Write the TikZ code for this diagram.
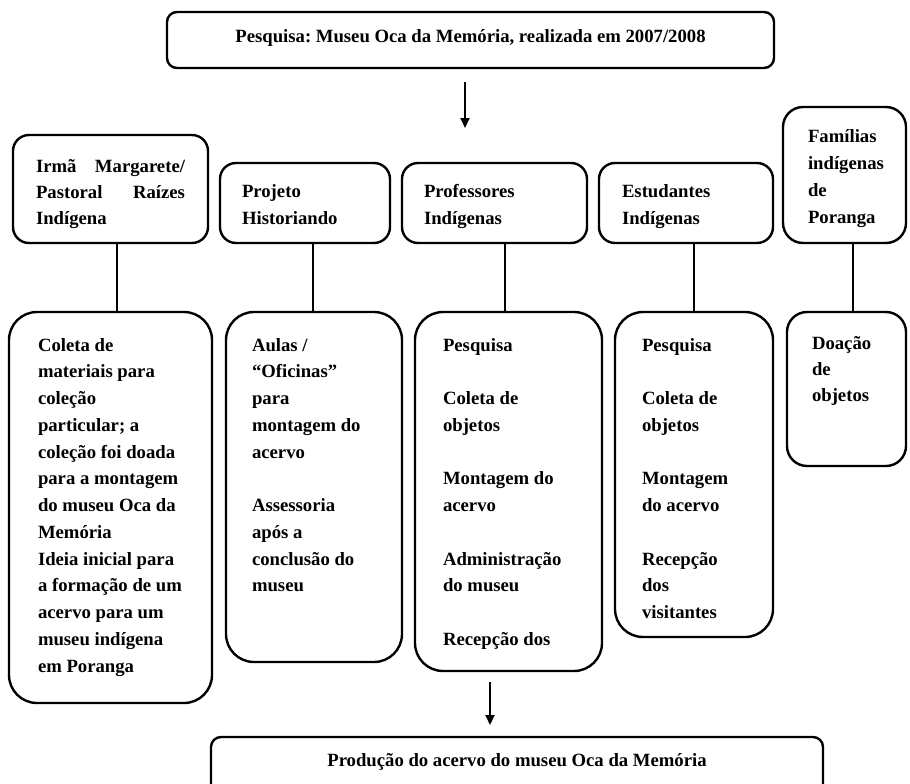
\documentclass[tikz,border=0pt]{standalone}
\usepackage{fontspec}
\setmainfont{Liberation Serif}
\usetikzlibrary{arrows.meta}
\frenchspacing
\newcommand\mylines[1]{\begin{tabular}[t]{@{}l@{}}#1\end{tabular}}
\begin{document}
\begin{tikzpicture}[x=1pt,y=-1pt,
  box/.style={draw, line width=2.4pt, rectangle, inner sep=0pt, outer sep=0pt, anchor=north west},
  txt/.style={inner sep=0pt, outer sep=0pt, anchor=base west, font=\fontsize{18.7}{26.75}\selectfont\bfseries},
  ctxt/.style={inner sep=0pt, outer sep=0pt, anchor=base, font=\fontsize{18.7}{26.75}\selectfont\bfseries},
  conn/.style={line width=2.2pt},
  arr/.style={line width=2pt, -{Triangle[width=9pt,length=10pt]}}]
\clip (0,0) rectangle (910,784);
% boxes
\node[box, rounded corners=10pt, minimum width=607pt, minimum height=56pt] (top) at (167,12) {};
\node[box, rounded corners=16pt, minimum width=195pt, minimum height=108pt] (h1) at (13,135) {};
\node[box, rounded corners=16pt, minimum width=170pt, minimum height=80pt] (h2) at (220,163) {};
\node[box, rounded corners=16pt, minimum width=185pt, minimum height=80pt] (h3) at (402,163) {};
\node[box, rounded corners=16pt, minimum width=174pt, minimum height=80pt] (h4) at (599,163) {};
\node[box, rounded corners=20pt, minimum width=123pt, minimum height=136pt] (h5) at (783,107) {};
\node[box, rounded corners=28pt, minimum width=203pt, minimum height=391pt] (b1) at (9,312) {};
\node[box, rounded corners=28pt, minimum width=176pt, minimum height=350pt] (b2) at (226,312) {};
\node[box, rounded corners=28pt, minimum width=187pt, minimum height=359pt] (b3) at (415,312) {};
\node[box, rounded corners=28pt, minimum width=158pt, minimum height=325pt] (b4) at (615,312) {};
\node[box, rounded corners=20pt, minimum width=119pt, minimum height=154pt] (b5) at (787,312) {};
\node[box, rounded corners=10pt, minimum width=612pt, minimum height=60pt] (fin) at (211,737) {};
% texts
\node[ctxt] (t0) at (470.5,43) {Pesquisa: Museu Oca da Memória, realizada em 2007/2008};
\node[txt, font=\fontsize{18.7}{26}\selectfont\bfseries] (th1) at (36,172) {\mylines{\hbox to 149pt{Irmã\hfill Margarete/}\\\hbox to 149pt{Pastoral\hfill Raízes}\\Indígena}};
\node[txt, font=\fontsize{18.7}{27}\selectfont\bfseries] (th2) at (242,197) {\mylines{Projeto\\Historiando}};
\node[txt, font=\fontsize{18.7}{27}\selectfont\bfseries] (th3) at (424,197) {\mylines{Professores\\Indígenas}};
\node[txt, font=\fontsize{18.7}{27}\selectfont\bfseries] (th4) at (622,197) {\mylines{Estudantes\\Indígenas}};
\node[txt, font=\fontsize{18.7}{27}\selectfont\bfseries] (th5) at (808,142) {\mylines{Famílias\\indígenas\\de\\Poranga}};
\node[txt] (tb1) at (38,351) {\mylines{Coleta de\\materiais para\\coleção\\particular; a\\coleção foi doada\\para a montagem\\do museu Oca da\\Memória\\Ideia inicial para\\a formação de um\\acervo para um\\museu indígena\\em Poranga}};
\node[txt] (tb2) at (252,351) {\mylines{Aulas /\\“Oficinas”\\para\\montagem do\\acervo\\ \\Assessoria\\após a\\conclusão do\\museu}};
\node[txt] (tb3) at (443,351) {\mylines{Pesquisa\\ \\Coleta de\\objetos\\ \\Montagem do\\acervo\\ \\Administração\\do museu\\ \\Recepção dos}};
\node[txt] (tb4) at (642,351) {\mylines{Pesquisa\\ \\Coleta de\\objetos\\ \\Montagem\\do acervo\\ \\Recepção\\dos\\visitantes}};
\node[txt, font=\fontsize{18.7}{26}\selectfont\bfseries] (tb5) at (812,349) {\mylines{Doação\\de\\objetos}};
\node[ctxt] (tf) at (517,766) {Produção do acervo do museu Oca da Memória};
% connector x positions
\coordinate (x1) at (117,0);
\coordinate (x2) at (313,0);
\coordinate (x3) at (505,0);
\coordinate (x4) at (694,0);
\coordinate (x5) at (853,0);
\draw[conn] (h1.south -| x1) -- (b1.north -| x1);
\draw[conn] (h2.south -| x2) -- (b2.north -| x2);
\draw[conn] (h3.south -| x3) -- (b3.north -| x3);
\draw[conn] (h4.south -| x4) -- (b4.north -| x4);
\draw[conn] (h5.south -| x5) -- (b5.north -| x5);
% arrows
\coordinate (a1s) at (465,82);
\coordinate (a1e) at (465,128);
\draw[arr] (a1s) -- (a1e);
\coordinate (x6) at (490,0);
\draw[arr] ([yshift=-11pt]b3.south -| x6) -- ([yshift=12pt]fin.north -| x6);
\end{tikzpicture}
\end{document}
